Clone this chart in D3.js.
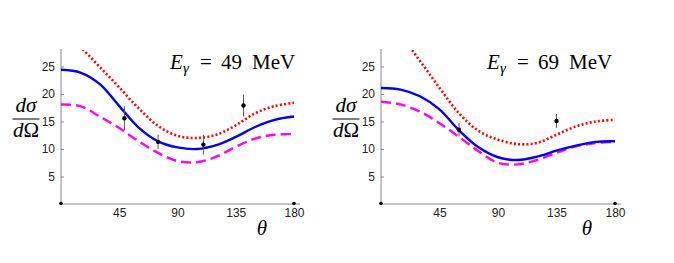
<!DOCTYPE html>
<html><head><meta charset="utf-8">
<script src="https://cdn.jsdelivr.net/npm/d3@7"></script>
<style>body{margin:0;background:#fff}svg{display:block}</style>
</head><body>
<svg id="c" width="674" height="263"></svg>
<script>
// ---- data ----
const thetaGrid = [0, 15, 30, 45, 60, 75, 90, 105, 120, 135, 150, 165, 180];
const yTicks = [5, 10, 15, 20, 25];
const xTicks = [45, 90, 135, 180];

// E = 49 MeV
const blue49    = [24.4, 23.9, 21.8, 17.8, 13.9, 11.4, 10.3, 10.0, 10.7, 12.2, 14.0, 15.3, 15.9];
const red49     = [30.5, 28.4, 24.9, 21.2, 17.4, 14.2, 12.4, 12.0, 12.6, 14.3, 16.5, 17.8, 18.4];
const magenta49 = [18.1, 17.8, 15.9, 13.8, 11.4, 9.3, 7.8, 7.6, 8.6, 10.4, 11.9, 12.6, 12.7];
const pts49Theta = [49, 75, 110, 141];
const pts49Val   = [15.6, 11.3, 10.8, 17.9];
const pts49Err   = [2.15, 1.3, 1.8, 2.0];

// E = 69 MeV
const blue69    = [21.1, 20.8, 19.6, 17.2, 13.4, 10.3, 8.5, 8.0, 8.6, 9.7, 10.6, 11.3, 11.4];
const red69     = [33.0, 30.5, 26.0, 21.1, 16.5, 13.3, 11.7, 10.9, 11.1, 12.6, 14.1, 15.0, 15.3];
const magenta69 = [18.6, 18.1, 16.8, 14.7, 12.2, 9.6, 7.5, 7.2, 8.0, 9.3, 10.5, 11.1, 11.3];
const pts69Theta = [60, 135];
const pts69Val   = [13.5, 15.1];
const pts69Err   = [1.2, 1.25];

const svg = d3.select("#c");

function panel(o) {
  const x = d3.scaleLinear().domain([0, 180]).range([o.x0, o.x1]);
  const y = d3.scaleLinear().domain([0, 28]).range([204, 50]);
  const g = svg.append("g");
  const id = "clip" + o.key;
  svg.append("clipPath").attr("id", id).append("rect")
    .attr("x", o.x0).attr("y", 50).attr("width", o.x1 - o.x0 + 10).attr("height", 154);

  // axes
  const yAx = g.append("g").attr("transform", `translate(${o.x0},0)`)
    .call(d3.axisRight(y).tickValues(yTicks).tickSize(3).tickFormat(d3.format("d")));
  yAx.select(".domain").remove();
  yAx.selectAll("line").attr("stroke", "#888");
  yAx.selectAll("text").attr("x", -6).attr("text-anchor", "end")
    .attr("font-family", "Liberation Sans, Arial, sans-serif").attr("font-size", 12).attr("fill", "#222");
  g.append("line").attr("x1", o.x0).attr("x2", o.x0).attr("y1", 204).attr("y2", 49)
    .attr("stroke", "#888").attr("stroke-width", 1);

  const xAx = g.append("g").attr("transform", `translate(0,204)`)
    .call(d3.axisBottom(x).tickValues(xTicks).tickSize(0).tickPadding(4).tickFormat(d3.format("d")));
  xAx.select(".domain").remove();
  xAx.selectAll("text").attr("font-family", "Liberation Sans, Arial, sans-serif")
    .attr("font-size", 12).attr("fill", "#222");
  g.append("line").attr("x1", o.x0).attr("x2", o.x1 + 6).attr("y1", 204).attr("y2", 204)
    .attr("stroke", "#888").attr("stroke-width", 1);
  g.selectAll(".endpt").data([0, 180]).enter().append("circle")
    .attr("cx", d => x(d)).attr("cy", 203.5).attr("r", 1.8).attr("fill", "#000");

  // curves
  const line = d3.line().x((d, i) => x(thetaGrid[i])).y(d => y(d)).curve(d3.curveCatmullRom.alpha(0.5));
  const cg = g.append("g").attr("clip-path", `url(#${id})`);
  cg.append("path").attr("d", line(o.magenta)).attr("fill", "none")
    .attr("stroke", "#f0f").attr("stroke-width", 2.4).attr("stroke-dasharray", "10 5");
  cg.append("path").attr("d", line(o.blue)).attr("fill", "none")
    .attr("stroke", "#0000ee").attr("stroke-width", 2.4);
  cg.append("path").attr("d", line(o.red)).attr("fill", "none")
    .attr("stroke", "#f00").attr("stroke-width", 2.6).attr("stroke-dasharray", "2 2.2");

  // data points
  o.pt.forEach((t, i) => {
    g.append("line").attr("x1", x(t)).attr("x2", x(t))
      .attr("y1", y(o.pv[i] - o.pe[i])).attr("y2", y(o.pv[i] + o.pe[i]))
      .attr("stroke", "#555").attr("stroke-width", 1);
    g.append("circle").attr("cx", x(t)).attr("cy", y(o.pv[i])).attr("r", 2.2).attr("fill", "#000");
  });

  // title
  const serif = "Liberation Serif, Times New Roman, serif";
  const t = g.append("text").attr("y", 68.5)
    .attr("font-family", serif).attr("font-size", 21).attr("fill", "#000");
  const s = o.tx;
  t.append("tspan").attr("x", s).attr("font-style", "italic").text("E");
  t.append("tspan").attr("x", s + 13).attr("font-style", "italic").attr("font-size", 15).attr("dy", 4).text("γ");
  t.append("tspan").attr("x", s + 30).attr("dy", -4).text("=");
  t.append("tspan").attr("x", s + 51).text(String(o.energy));
  t.append("tspan").attr("x", s + 82).text("MeV");

  // y label fraction
  const fx = o.x0 - 35;
  g.append("text").attr("x", fx).attr("y", 112).attr("text-anchor", "middle")
    .attr("font-family", serif).attr("font-size", 21).attr("font-style", "italic").text("dσ");
  g.append("line").attr("x1", fx - 13.5).attr("x2", fx + 13.5).attr("y1", 119).attr("y2", 119)
    .attr("stroke", "#000").attr("stroke-width", 1);
  const den = g.append("text").attr("x", fx).attr("y", 137).attr("text-anchor", "middle")
    .attr("font-family", serif).attr("font-size", 21);
  den.append("tspan").attr("font-style", "italic").text("d");
  den.append("tspan").text("Ω");

  // x label
  g.append("text").attr("x", o.x0 + o.thetaDx).attr("y", 235).attr("text-anchor", "middle")
    .attr("font-family", serif).attr("font-size", 21).attr("font-style", "italic").text("θ");
}

panel({key: "a", x0: 61, x1: 294, tx: 170, energy: 49, blue: blue49, red: red49, magenta: magenta49,
       pt: pts49Theta, pv: pts49Val, pe: pts49Err, thetaDx: 201});
panel({key: "b", x0: 381, x1: 615, tx: 487, energy: 69, blue: blue69, red: red69, magenta: magenta69,
       pt: pts69Theta, pv: pts69Val, pe: pts69Err, thetaDx: 206});
</script>
</body></html>
